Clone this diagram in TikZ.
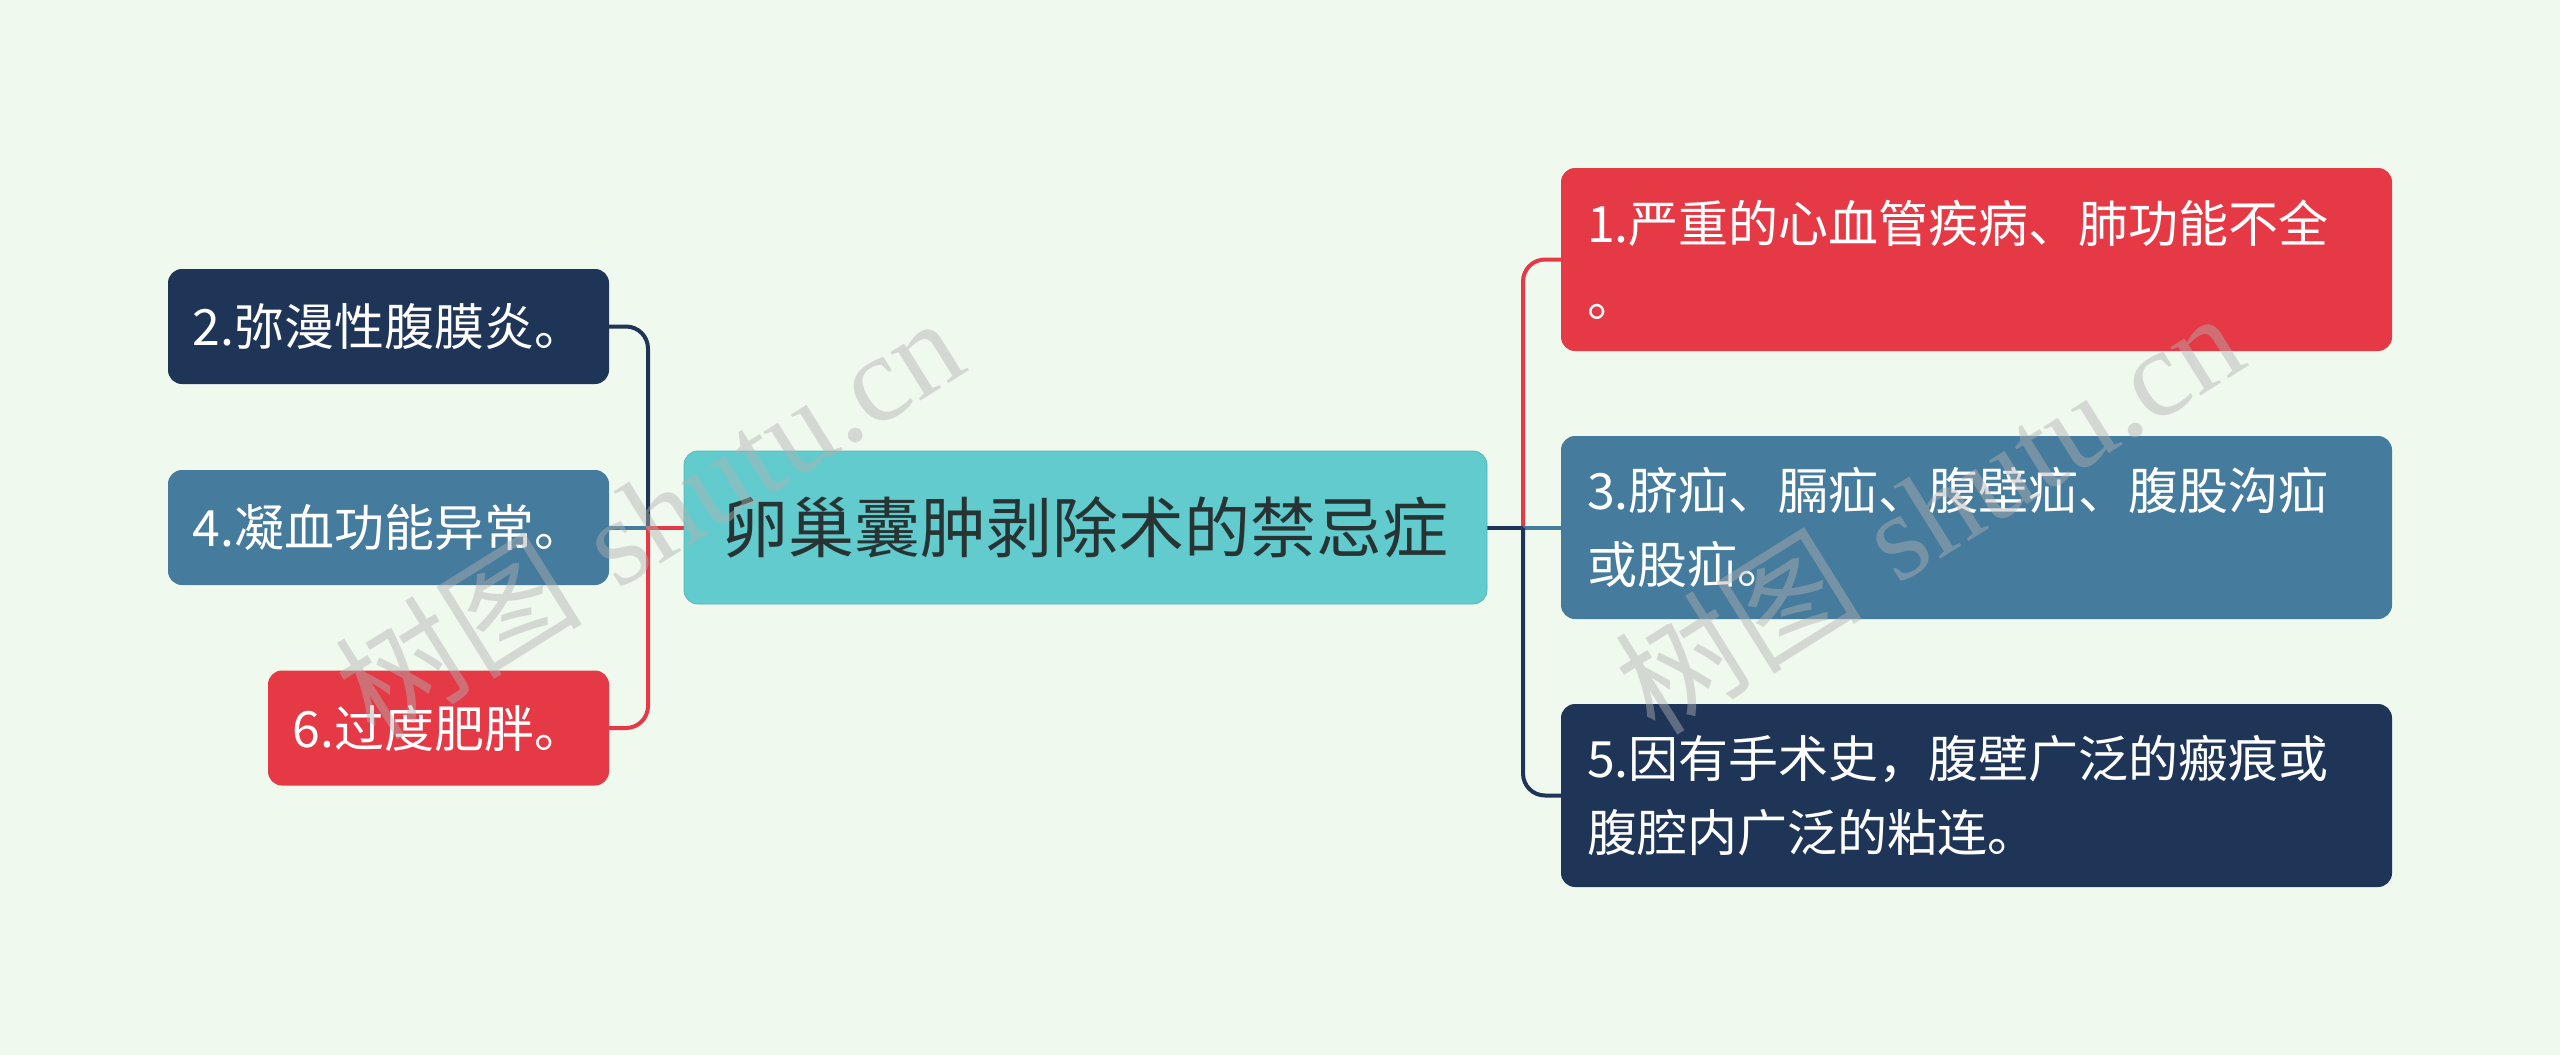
\documentclass[tikz,border=0pt]{standalone}
\usepackage{fontspec}
\newfontfamily\cjk{Noto Sans CJK SC}
\newfontfamily\wmlatin{Liberation Serif}
\usetikzlibrary{backgrounds}
\definecolor{bgc}{RGB}{240,249,238}
\definecolor{cnavy}{RGB}{30,53,87}
\definecolor{cblue}{RGB}{69,123,157}
\definecolor{cred}{RGB}{230,57,70}
\definecolor{cteal}{RGB}{98,203,205}
\definecolor{ctext}{RGB}{40,52,52}
\tikzset{
  box/.style={rounded corners=14pt, inner sep=0pt, text=white,
    font=\cjk\fontsize{50}{74}\selectfont},
  rbox/.style={box, minimum width=831pt, minimum height=183pt,
    text width=779pt, align=left},
  lbox/.style={box, minimum height=115pt, align=center},
  conn/.style={line width=4pt},
  wm/.style={rotate=32, text=gray!60, opacity=0.45,
    font=\fontsize{124}{124}\selectfont}
}
\begin{document}
\begin{tikzpicture}[x=1pt,y=-1pt]
\begin{pgfonlayer}{background}
\fill[bgc] (0,0) rectangle (2560,1055);
\end{pgfonlayer}
\useasboundingbox (0,0) rectangle (2560,1055);

% central node
\node[box, fill=cteal, draw=cteal!90!black, line width=0.8pt, text=ctext,
  minimum width=803pt, minimum height=153pt,
  font=\cjk\fontsize{66}{66}\selectfont] (c) at (1085.5,527.5) {卵巢囊肿剥除术的禁忌症};

% left nodes
\node[lbox, fill=cnavy, minimum width=441pt] (n2) at (388.5,326.5) {2.弥漫性腹膜炎。};
\node[lbox, fill=cblue, minimum width=441pt] (n4) at (388.5,527.5) {4.凝血功能异常。};
\node[lbox, fill=cred, minimum width=341pt] (n6) at (438.5,728) {6.过度肥胖。};

% right nodes
\node[rbox, fill=cred] (n1) at (1976.5,259.5) {1.严重的心血管疾病、肺功能不全\\。};
\node[rbox, fill=cblue] (n3) at (1976.5,527.5) {3.脐疝、膈疝、腹壁疝、腹股沟疝\\或股疝。};
\node[rbox, fill=cnavy] (n5) at (1976.5,795.5) {5.因有手术史，腹壁广泛的瘢痕或\\腹腔内广泛的粘连。};

\coordinate (lt) at (648,527.5);
\coordinate (rt) at (1523,527.5);

\begin{pgfonlayer}{background}
% left connectors
\draw[conn, cnavy] (c.west) -- (lt);
\draw[conn, cnavy, rounded corners=22pt] (lt) |- (n2.east);
\draw[conn, cblue] (lt) -- (n4.east);
\draw[conn, cred] (c.west) -- (lt);
\draw[conn, cred, rounded corners=22pt] (lt) |- (n6.east);
% right connectors
\draw[conn, cred, rounded corners=22pt] (rt) |- (n1.west);
\draw[conn, cblue] (rt) -- (n3.west);
\draw[conn, cnavy, rounded corners=22pt] (rt) |- (n5.west);
\draw[conn, cnavy] (c.east) -- (rt);
\end{pgfonlayer}

% watermarks
\node[wm] (w1) at (648,516) {{\cjk 树图} \wmlatin shutu.cn};
\node[wm] (w2) at (1928,511) {{\cjk 树图} \wmlatin shutu.cn};
\end{tikzpicture}
\end{document}
